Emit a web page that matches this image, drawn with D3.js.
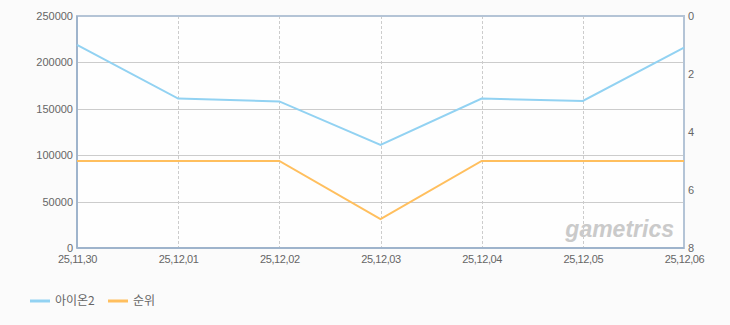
<!DOCTYPE html>
<html>
<head>
<meta charset="utf-8">
<script src="https://cdn.jsdelivr.net/npm/d3@7"></script>
<style>
  body { margin: 0; background: #fbfbfb; }
  text { font-family: "Noto Sans CJK KR", "Liberation Sans", sans-serif; }
</style>
</head>
<body>
<div class="chart"></div>
<script>
var dates = ["25,11,30", "25,12,01", "25,12,02", "25,12,03", "25,12,04", "25,12,05", "25,12,06"];
var players = [219000, 161000, 158000, 111000, 161000, 158500, 216000];
var ranks = [5, 5, 5, 7, 5, 5, 5];
var leftTicks = [0, 50000, 100000, 150000, 200000, 250000];
var rightTicks = [0, 2, 4, 6, 8];
var seriesNames = ["아이온2", "순위"];
var colors = ["#92d2f2", "#ffbf5e"];

var margin = {top: 16, right: 46, bottom: 77, left: 77};
var width = 730 - margin.left - margin.right;
var height = 325 - margin.top - margin.bottom;

var svg = d3.select('div.chart').append('svg')
    .attr('width', 730)
    .attr('height', 325);

var g = svg.append('g')
    .attr('transform', 'translate(' + margin.left + ',' + margin.top + ')');

var xScale = d3.scalePoint().domain(dates).range([0, width]);
var yLeft = d3.scaleLinear().domain([0, 250000]).range([height, 0]);
var yRight = d3.scaleLinear().domain([0, 8]).range([0, height]);

g.append('rect')
  .attr('width', width).attr('height', height)
  .attr('fill', '#fefefe');

// horizontal grid
g.selectAll('line.hgrid')
  .data(leftTicks.slice(1, -1))
  .enter().append('line')
  .attr('class', 'hgrid')
  .attr('x1', 0).attr('x2', width)
  .attr('y1', function(d) { return Math.round(yLeft(d)) + 0.5; })
  .attr('y2', function(d) { return Math.round(yLeft(d)) + 0.5; })
  .attr('stroke', '#cccccc');

// vertical dashed grid
g.selectAll('line.vgrid')
  .data(dates.slice(1, -1))
  .enter().append('line')
  .attr('class', 'vgrid')
  .attr('x1', function(d) { return Math.round(xScale(d)) + 0.5; })
  .attr('x2', function(d) { return Math.round(xScale(d)) + 0.5; })
  .attr('y1', 0).attr('y2', height)
  .attr('stroke', '#cccccc')
  .attr('stroke-dasharray', '3,2');

// watermark
g.append('text')
  .attr('x', width - 10).attr('y', height - 11)
  .attr('text-anchor', 'end')
  .attr('font-size', 23)
  .attr('font-style', 'italic')
  .attr('font-weight', 'bold')
  .attr('fill', '#cacaca')
  .style('font-family', '"Liberation Sans", sans-serif')
  .text('gametrics');

// frame
g.append('rect')
  .attr('x', 0).attr('y', 0)
  .attr('width', width).attr('height', height)
  .attr('fill', 'none')
  .attr('stroke', '#b4c4d6')
  .attr('stroke-width', 2);
g.append('line')
  .attr('x1', 0).attr('x2', 0).attr('y1', 0).attr('y2', height)
  .attr('stroke', '#9fb4cc').attr('stroke-width', 2);
g.append('line')
  .attr('x1', 0).attr('x2', width).attr('y1', height).attr('y2', height)
  .attr('stroke', '#9fb4cc').attr('stroke-width', 2);

var lineLeft = d3.line()
  .x(function(d, i) { return xScale(dates[i]); })
  .y(function(d) { return yLeft(d); });
var lineRight = d3.line()
  .x(function(d, i) { return xScale(dates[i]); })
  .y(function(d) { return yRight(d); });

g.append('path')
  .attr('d', lineLeft(players))
  .attr('fill', 'none')
  .attr('stroke', colors[0])
  .attr('stroke-width', 2);
g.append('path')
  .attr('d', lineRight(ranks))
  .attr('fill', 'none')
  .attr('stroke', colors[1])
  .attr('stroke-width', 2);

// axes
var axisLeft = d3.axisLeft(yLeft).tickValues(leftTicks).tickFormat(d3.format('d')).tickSize(0).tickPadding(4);
var axisRight = d3.axisRight(yRight).tickValues(rightTicks).tickSize(0).tickPadding(4);
var axisBottom = d3.axisBottom(xScale).tickSize(0).tickPadding(7);

function styleAxis(sel) {
  sel.select('.domain').remove();
  sel.selectAll('text')
    .attr('fill', '#666')
    .attr('font-size', 11)
    .style('font-family', '"Liberation Sans", sans-serif');
}

g.append('g').call(axisLeft).call(styleAxis);
g.append('g').attr('transform', 'translate(' + width + ',0)').call(axisRight).call(styleAxis);
g.append('g').attr('transform', 'translate(0,' + height + ')').call(axisBottom).call(styleAxis)
  .selectAll('text').attr('letter-spacing', -0.4);

// legend
var legend = svg.append('g').attr('transform', 'translate(30,301)');
var lx = [0, 78];
seriesNames.forEach(function(name, i) {
  var item = legend.append('g').attr('transform', 'translate(' + lx[i] + ',0)');
  item.append('line')
    .attr('x1', 0).attr('x2', 20).attr('y1', 0).attr('y2', 0)
    .attr('stroke', colors[i]).attr('stroke-width', 3);
  item.append('text')
    .attr('x', 25).attr('y', 0).attr('dy', '0.35em')
    .attr('font-size', 12)
    .attr('fill', '#666')
    .text(name);
});
</script>
</body>
</html>
